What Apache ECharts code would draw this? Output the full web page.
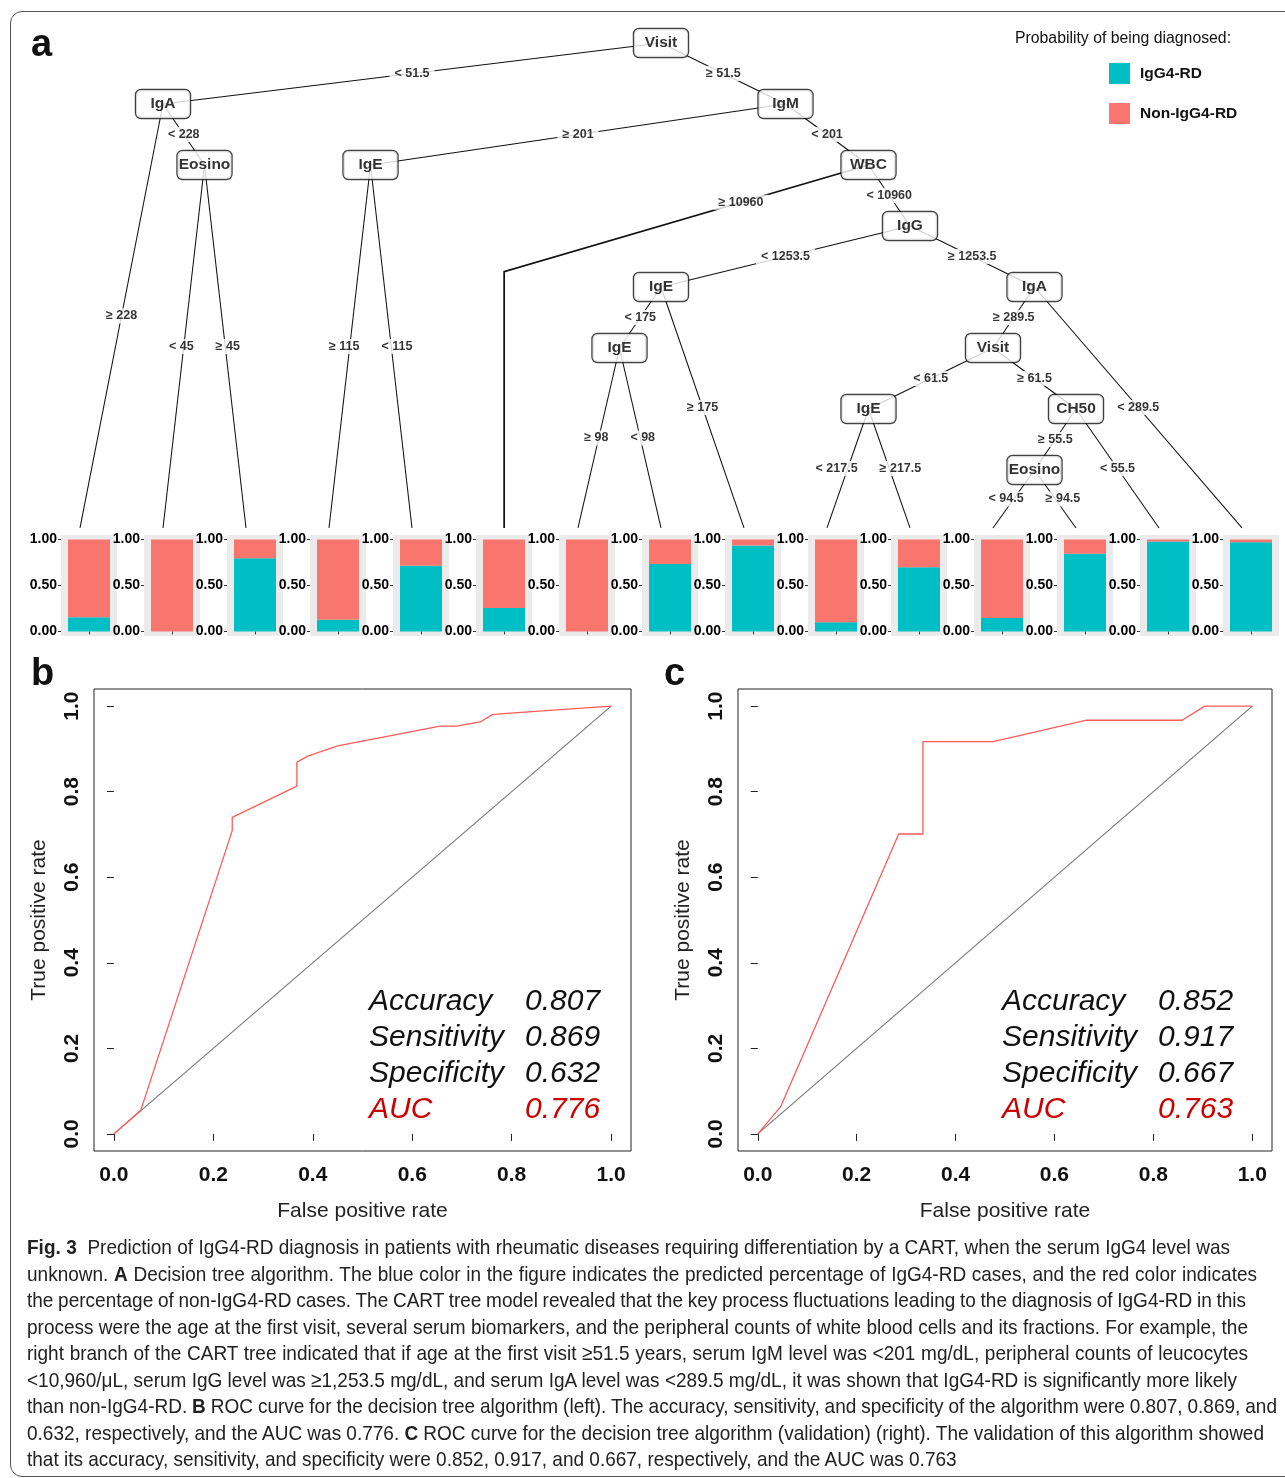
<!DOCTYPE html>
<html>
<head>
<meta charset="utf-8">
<script src="https://cdn.jsdelivr.net/npm/echarts@6/dist/echarts.min.js"></script>
<style>
html,body{margin:0;padding:0;background:#fff;overflow:hidden;width:1285px;height:1478px;}
#frame{position:absolute;left:10px;top:11px;width:1300px;height:1466px;border:1.5px solid #555;border-radius:12px;box-sizing:border-box;}
#chart{position:absolute;left:0;top:0;width:1285px;height:1478px;}
#caption{position:absolute;left:27px;top:1234px;font-family:'Liberation Sans',Arial,sans-serif;font-size:21px;line-height:26.5px;color:#222;transform-origin:0 0;}
.ln{white-space:nowrap;height:26.5px;}
.ln span{display:inline-block;white-space:nowrap;}
</style>
</head>
<body>
<div id="frame"></div>
<div id="chart"></div>
<div id="caption">
<div class="ln" data-r="1230"><span><b>Fig. 3</b>&nbsp; Prediction of IgG4-RD diagnosis in patients with rheumatic diseases requiring differentiation by a CART, when the serum IgG4 level was</span></div>
<div class="ln" data-r="1257"><span>unknown. <b>A</b> Decision tree algorithm. The blue color in the figure indicates the predicted percentage of IgG4-RD cases, and the red color indicates</span></div>
<div class="ln" data-r="1246"><span>the percentage of non-IgG4-RD cases. The CART tree model revealed that the key process fluctuations leading to the diagnosis of IgG4-RD in this</span></div>
<div class="ln" data-r="1248"><span>process were the age at the first visit, several serum biomarkers, and the peripheral counts of white blood cells and its fractions. For example, the</span></div>
<div class="ln" data-r="1248"><span>right branch of the CART tree indicated that if age at the first visit ≥51.5 years, serum IgM level was &lt;201 mg/dL, peripheral counts of leucocytes</span></div>
<div class="ln" data-r="1237"><span>&lt;10,960/μL, serum IgG level was ≥1,253.5 mg/dL, and serum IgA level was &lt;289.5 mg/dL, it was shown that IgG4-RD is significantly more likely</span></div>
<div class="ln" data-r="1277"><span>than non-IgG4-RD. <b>B</b> ROC curve for the decision tree algorithm (left). The accuracy, sensitivity, and specificity of the algorithm were 0.807, 0.869, and</span></div>
<div class="ln" data-r="1264"><span>0.632, respectively, and the AUC was 0.776. <b>C</b> ROC curve for the decision tree algorithm (validation) (right). The validation of this algorithm showed</span></div>
<div class="ln"><span>that its accuracy, sensitivity, and specificity were 0.852, 0.917, and 0.667, respectively, and the AUC was 0.763</span></div>
</div>
<script>
// ---------------- DATA ----------------
// Decision tree (pre-order). parent index, split variable ('' = leaf), label on incoming branch
const treeParents = [-1,0,1,1,3,3,0,6,7,7,6,10,10,12,13,14,14,13,12,18,19,20,20,19,23,24,24,23,18];
const treeVars    = ['Visit','IgA','','Eosino','','','IgM','IgE','','','WBC','','IgG','IgE','IgE','','','','IgA','Visit','IgE','','','CH50','Eosino','','','',''];
const treeSplits  = ['','< 51.5','\u2265 228','< 228','< 45','\u2265 45','\u2265 51.5','\u2265 201','\u2265 115','< 115','< 201','\u2265 10960','< 10960','< 1253.5','< 175','\u2265 98','< 98','\u2265 175','\u2265 1253.5','\u2265 289.5','< 61.5','< 217.5','\u2265 217.5','\u2265 61.5','\u2265 55.5','< 94.5','\u2265 94.5','< 55.5','< 289.5'];
// Leaf probability of IgG4-RD (left to right)
const leafIgG4 = [0.153,0,0.796,0.127,0.716,0.255,0,0.735,0.935,0.10,0.70,0.145,0.847,0.98,0.97];
const leafTicks = [0,0.5,1];
const classNames = ['IgG4-RD','Non-IgG4-RD'];
// ROC curves
const rocB_fpr = [0,0.054,0.238,0.238,0.368,0.368,0.39,0.45,0.656,0.689,0.737,0.761,0.79,1];
const rocB_tpr = [0,0.055,0.709,0.74,0.813,0.869,0.883,0.907,0.953,0.953,0.963,0.98,0.983,1];
const rocC_fpr = [0,0.046,0.285,0.334,0.334,0.476,0.665,0.858,0.904,1];
const rocC_tpr = [0,0.063,0.701,0.701,0.917,0.917,0.967,0.967,1,1];
const diagonal = [0,1];
const rocTicks = [0,0.2,0.4,0.6,0.8,1.0];
const statNames = ['Accuracy','Sensitivity','Specificity','AUC'];
const statsB = ['0.807','0.869','0.632','0.776'];
const statsC = ['0.852','0.917','0.667','0.763'];

// ---------------- LAYOUT ----------------
const TREE_FONT = "'Liberation Sans',Arial,sans-serif";
const SANS = "'Liberation Sans',Arial,Helvetica,sans-serif";
const TEAL = '#00BFC4', SALMON = '#F8766D';
const LEAF_LEVEL = 7.95;
const X_PX = 83;            // px per leaf unit on the tree grid
const BENT = {11: {depth: 3.75, dx: 0.11}};   // node id -> bend of branch
const BENT_LABEL_T = 0.35;
const EDGE_FONT_SIZE = 12.5, SIBLING_GAP = 22;

const N = treeParents.length;
const children = Array.from({length:N}, () => []);
treeParents.forEach((p,i) => { if (p >= 0) children[p].push(i); });
const depth = new Array(N).fill(0);
for (let i = 0; i < N; i++) depth[i] = treeParents[i] < 0 ? 0 : depth[treeParents[i]] + 1;
const leafIdx = new Array(N).fill(-1);
let lc = 0;
for (let i = 0; i < N; i++) if (!children[i].length) leafIdx[i] = lc++;
function leavesOf(i){ return children[i].length ? children[i].flatMap(leavesOf) : [leafIdx[i]]; }
const nx = [], ny = [];
for (let i = 0; i < N; i++) {
  const L = leavesOf(i);
  nx[i] = L.reduce((a,b)=>a+b,0) / L.length;
  ny[i] = children[i].length ? depth[i] : LEAF_LEVEL;
}
const measureCtx = document.createElement('canvas').getContext('2d');
measureCtx.font = 'bold ' + EDGE_FONT_SIZE + 'px ' + TREE_FONT;
const edgeData = [], nodeData = [];
const labelPos = {};
for (let i = 0; i < N; i++) {
  const p = treeParents[i];
  if (children[i].length) nodeData.push({value:[nx[i], ny[i]], name: treeVars[i]});
  if (p < 0) continue;
  if (BENT[i]) {
    const bx = nx[i] + BENT[i].dx, by = BENT[i].depth;
    edgeData.push({coords:[[nx[p],ny[p]],[bx,by],[bx,ny[i]]], lineStyle:{width:1.7}});
    labelPos[i] = [nx[p]+(bx-nx[p])*BENT_LABEL_T, ny[p]+(by-ny[p])*BENT_LABEL_T];
  } else {
    edgeData.push({coords:[[nx[p],ny[p]],[nx[i],ny[i]]]});
    labelPos[i] = [(nx[p]+nx[i])/2, (ny[p]+ny[i])/2];
  }
}
// push sibling branch labels apart when they crowd each other
for (let p = 0; p < N; p++) {
  if (children[p].length !== 2) continue;
  const [a, b] = children[p];
  if (Math.abs(labelPos[a][1] - labelPos[b][1]) > 0.3) continue;
  const wa = measureCtx.measureText(treeSplits[a]).width, wb = measureCtx.measureText(treeSplits[b]).width;
  const need = (wa + wb) / 2 + SIBLING_GAP;
  const have = Math.abs(labelPos[b][0] - labelPos[a][0]) * X_PX;
  if (have < need) {
    const d = (need - have) / 2 / X_PX;
    const sgn = labelPos[b][0] >= labelPos[a][0] ? 1 : -1;
    labelPos[a][0] -= sgn * d; labelPos[b][0] += sgn * d;
  }
}
const edgeLabelData = [];
for (let i = 0; i < N; i++) if (labelPos[i]) edgeLabelData.push({value: labelPos[i], name: treeSplits[i]});

const grids = [], xAxes = [], yAxes = [], series = [];
// grid 0 : tree
grids.push({left:80, top:43, width:X_PX*14, height:488, show:false});
xAxes.push({gridIndex:0, type:'value', min:0, max:14, show:false});
yAxes.push({gridIndex:0, type:'value', min:0, max:8, inverse:true, show:false});
series.push({type:'lines', coordinateSystem:'cartesian2d', xAxisIndex:0, yAxisIndex:0, polyline:true, silent:true, z:1,
  lineStyle:{color:'#111', width:1.05, opacity:1}, data: edgeData});
series.push({type:'scatter', xAxisIndex:0, yAxisIndex:0, z:2, silent:true, symbolSize:1, itemStyle:{color:'transparent'},
  label:{show:true, position:'inside', formatter:'{b}', backgroundColor:'#fff', padding:[1,5],
    fontFamily:TREE_FONT, fontWeight:'bold', fontSize:EDGE_FONT_SIZE, color:'#000'}, data: edgeLabelData});
series.push({type:'scatter', xAxisIndex:0, yAxisIndex:0, z:3, silent:true, symbolSize:1, itemStyle:{color:'transparent'},
  label:{show:true, position:'inside', formatter:'{b}', backgroundColor:'#fff', borderColor:'#111', borderWidth:1.2,
    borderRadius:5, width:46, height:18, lineHeight:18, padding:[5,4], align:'center', verticalAlign:'middle',
    fontFamily:TREE_FONT, fontWeight:'bold', fontSize:15.5, color:'#000'}, data: nodeData});

// leaf bar panels
leafIgG4.forEach((v, i) => {
  const g = grids.length;
  grids.push({left:61 + X_PX*i, top:535, width:56, height:101, show:true, backgroundColor:'#EBEBEB', borderWidth:0});
  xAxes.push({gridIndex:g, type:'category', data:['leaf'], axisLine:{show:false},
    axisTick:{show:true, alignWithLabel:true, length:3, lineStyle:{color:'#333'}}, axisLabel:{show:false}});
  yAxes.push({gridIndex:g, type:'value', min:-0.05, max:1.05, axisLine:{show:false}, splitLine:{show:false},
    axisTick:{show:true, length:3, lineStyle:{color:'#333'}, customValues:leafTicks},
    axisLabel:{customValues:leafTicks, formatter:(x)=>x.toFixed(2), fontFamily:TREE_FONT, fontWeight:'bold', fontSize:14, color:'#000', margin:4}});
  series.push({type:'bar', name:classNames[0], xAxisIndex:g, yAxisIndex:g, stack:'s'+i, barWidth:'75%', silent:true,
    itemStyle:{color:TEAL}, data:[v]});
  series.push({type:'bar', name:classNames[1], xAxisIndex:g, yAxisIndex:g, stack:'s'+i, barWidth:'75%', silent:true,
    itemStyle:{color:SALMON}, data:[1 - v]});
});

// ROC panels
function rocPanel(left, width, fpr, tpr) {
  const g = grids.length;
  grids.push({left:left, top:689, width:width, height:462, show:true, borderColor:'#222', borderWidth:1, backgroundColor:'transparent'});
  const common = {gridIndex:g, type:'value', min:-0.04, max:1.04, axisLine:{show:false}, splitLine:{show:false},
    axisTick:{show:true, inside:false, length:7, lineStyle:{color:'#222', width:1}, customValues:rocTicks},
    nameLocation:'middle', nameTextStyle:{fontFamily:SANS, fontSize:21, color:'#222'}};
  xAxes.push(Object.assign({}, common, {name:'False positive rate', nameGap:50,
    axisLabel:{customValues:rocTicks, formatter:(x)=>x.toFixed(1), fontFamily:SANS, fontWeight:'bold', fontSize:21, color:'#111', margin:14}}));
  yAxes.push(Object.assign({}, common, {name:'True positive rate', nameGap:44, nameRotate:90,
    axisLabel:{customValues:rocTicks, formatter:(x)=>x.toFixed(1), rotate:90, fontFamily:SANS, fontWeight:'bold', fontSize:21, color:'#111', margin:11}}));
  series.push({type:'line', xAxisIndex:g, yAxisIndex:g, silent:true, symbol:'none', z:2,
    lineStyle:{color:'#7a7a7a', width:1.2}, data: diagonal.map(d => [d, d])});
  series.push({type:'line', xAxisIndex:g, yAxisIndex:g, silent:true, symbol:'none', z:3,
    lineStyle:{color:'#FF5a5a', width:1.3}, data: fpr.map((f, k) => [f, tpr[k]])});
}
rocPanel(94, 537, rocB_fpr, rocB_tpr);
rocPanel(738, 534, rocC_fpr, rocC_tpr);

// text annotations
const graphic = [];
function letter(t, x, y){ graphic.push({type:'text', left:x, top:y, style:{text:t, fontFamily:SANS, fontWeight:'bold', fontSize:38, fill:'#111'}}); }
letter('a', 31, 27); letter('b', 31, 656); letter('c', 664, 656);
graphic.push({type:'text', left:1015, top:31, style:{text:'Probability of being diagnosed:', fontFamily:SANS, fontSize:15.8, fill:'#111'}});
function stats(xl, xv, vals){
  statNames.forEach((s, k) => {
    const col = k === 3 ? '#CC0000' : '#111';
    const y = 1000 + 36*k - 13;
    graphic.push({type:'text', left:xl, top:y, style:{text:s, fontFamily:SANS, fontStyle:'italic', fontSize:30, fill:col}});
    graphic.push({type:'text', left:xv, top:y, style:{text:vals[k], fontFamily:SANS, fontStyle:'italic', fontSize:30, fill:col}});
  });
}
stats(369, 525, statsB);
stats(1002, 1158, statsC);

const chart = echarts.init(document.getElementById('chart'), null, {renderer:'canvas'});
chart.setOption({
  animation:false,
  backgroundColor:'transparent',
  grid: grids, xAxis: xAxes, yAxis: yAxes, series: series,
  legend:{data:classNames, orient:'vertical', left:1104, top:58, itemWidth:21, itemHeight:21, itemGap:19, icon:'rect',
    selectedMode:false, textStyle:{fontFamily:SANS, fontWeight:'bold', fontSize:15.5, color:'#111', padding:[0,0,0,5]}},
  graphic: graphic
});

// caption: condense uniformly, then justify each line to its measured right edge
function fitCaption(){
  const cap = document.getElementById('caption');
  cap.style.transform = 'none';
  const lines = [...cap.querySelectorAll('.ln')];
  const spans = lines.map(l => l.firstElementChild);
  spans.forEach(s => s.style.wordSpacing = '0px');
  const ratios = [];
  lines.forEach((l, i) => { if (l.dataset.r) ratios.push((+l.dataset.r - 27) / spans[i].getBoundingClientRect().width); });
  const s = ratios.reduce((a,b)=>a+b,0) / ratios.length;
  lines.forEach((l, i) => {
    if (!l.dataset.r) return;
    const target = (+l.dataset.r - 27) / s;
    const w = spans[i].getBoundingClientRect().width;
    const n = (spans[i].textContent.match(/[ \u00a0]/g) || []).length;
    if (n) spans[i].style.wordSpacing = ((target - w) / n) + 'px';
  });
  cap.style.transform = 'scaleX(' + s + ')';
}
fitCaption();
if (document.fonts && document.fonts.ready) document.fonts.ready.then(fitCaption);
</script>
</body>
</html>
